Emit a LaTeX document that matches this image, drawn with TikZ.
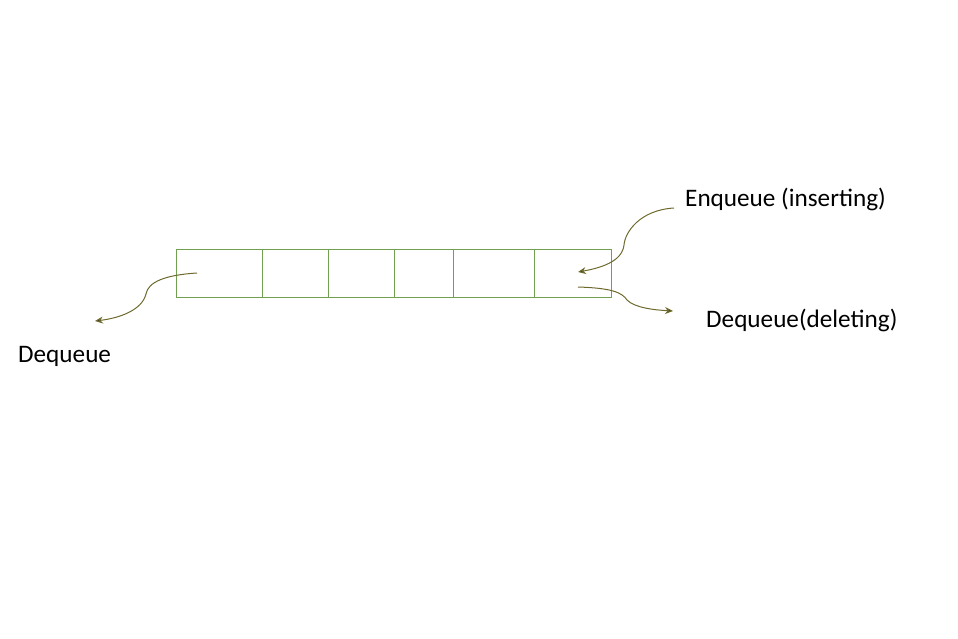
\documentclass[tikz,border=0pt]{standalone}
\usepackage{fontspec}
\setmainfont{Carlito}
\usetikzlibrary{arrows.meta}
\definecolor{boxgreen}{HTML}{70A050}
\definecolor{arrowcol}{HTML}{6E6A2E}
\begin{document}
\begin{tikzpicture}[x=1pt,y=-1pt,
  cell/.style={draw=boxgreen,line width=1pt,minimum height=48pt,inner sep=0pt,anchor=north west},
  lbl/.style={font=\fontsize{25.2}{29}\selectfont,anchor=base west,inner sep=0pt,text=black},
  conn/.style={draw=arrowcol,line width=1pt,-{Stealth[length=8pt,width=7pt,fill=black!80]}}]
\useasboundingbox (0,0) rectangle (958,638);
\node[cell,minimum width=86pt] (c1) at (176,249) {};
\node[cell,minimum width=66pt] (c2) at (262,249) {};
\node[cell,minimum width=66pt] (c3) at (328,249) {};
\node[cell,minimum width=59pt] (c4) at (394,249) {};
\node[cell,minimum width=81pt] (c5) at (453,249) {};
\node[cell,minimum width=77pt] (c6) at (534,249) {};
\node[lbl] (enq) at (685,206) {Enqueue (inserting)};
\node[lbl] (deqd) at (706,327) {Dequeue(deleting)};
\node[lbl] (deq) at (18,362) {Dequeue};
\coordinate (enqs) at (674,208);
\coordinate (enqe) at (578,272);
\coordinate (dds) at (578,287);
\coordinate (dde) at (673,311);
\coordinate (ls) at (197,273);
\coordinate (le) at (95,321);
\draw[conn] (enqs) .. controls (640,210) and (625,232) .. (624,245)
  .. controls (622,262) and (600,268) .. (enqe);
\draw[conn] (dds) .. controls (610,288) and (622,292) .. (627,300)
  .. controls (635,308) and (655,310) .. (dde);
\draw[conn] (ls) .. controls (165,275) and (148,282) .. (146,294)
  .. controls (142,310) and (120,318) .. (le);
\end{tikzpicture}
\end{document}
